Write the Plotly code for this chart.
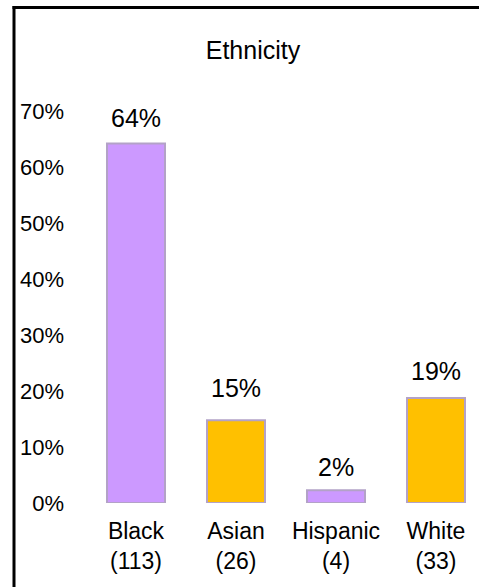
import plotly.graph_objects as go

categories = ["Black", "Asian", "Hispanic", "White"]
counts = [113, 26, 4, 33]
total = sum(counts)
shares = [c / total for c in counts]
bar_colors = ["#CC99FF", "#FFC000", "#CC99FF", "#FFC000"]
label_shift = [9, 16, 7, 11]
y_ticks = [0, 0.1, 0.2, 0.3, 0.4, 0.5, 0.6, 0.7]

W, H = 479, 587
ML, MR, MT, MB = 86, 0, 111, 84
pw = W - ML - MR
ph = H - MT - MB

def px_x(p):
    return (p - ML) / pw

def px_y(p):
    return (H - MB - p) / ph

tick_text = [f"{c}<br>({n})" for c, n in zip(categories, counts)]
FONT = "Liberation Sans, Arial, sans-serif"

fig = go.Figure()
fig.add_trace(go.Bar(
    x=categories, y=shares,
    marker=dict(color=bar_colors, line=dict(color="#B3A2C7", width=2)),
    width=0.58,
    hoverinfo="skip",
))

for c, s, sh in zip(categories, shares, label_shift):
    fig.add_annotation(
        x=c, y=s, text=f"{round(s*100)}%", showarrow=False,
        yanchor="bottom", yshift=sh,
        font=dict(family=FONT, size=25, color="black"),
    )

# outer frame (top and left edges visible)
fig.add_shape(type="line", xref="paper", yref="paper",
              x0=px_x(12.5), x1=px_x(482), y0=px_y(7.5), y1=px_y(7.5),
              line=dict(color="black", width=3), layer="above")
fig.add_shape(type="line", xref="paper", yref="paper",
              x0=px_x(14), x1=px_x(14), y0=px_y(6), y1=px_y(590),
              line=dict(color="black", width=3), layer="above")

fig.update_layout(
    width=W, height=H,
    margin=dict(l=ML, r=MR, t=MT, b=MB, pad=0),
    paper_bgcolor="white", plot_bgcolor="white",
    showlegend=False,
    title=dict(text="Ethnicity", x=253 / W, xanchor="center", xref="container",
               y=1 - 50 / H, yanchor="middle", yref="container",
               font=dict(family=FONT, size=25, color="black")),
    font=dict(family=FONT, color="black"),
    xaxis=dict(range=[-0.5, -0.5 + pw / 100], tickmode="array",
               tickvals=categories, ticktext=tick_text,
               tickfont=dict(size=23), showgrid=False, zeroline=False,
               showline=False, ticks="", ticklabelstandoff=12),
    yaxis=dict(range=[0, 0.7], tickvals=y_ticks, tickformat=".0%",
               tickfont=dict(size=22), showgrid=False, zeroline=False,
               showline=False, ticks="", ticklabelstandoff=21),
)

fig.write_html("out.html", config={"displayModeBar": False},
               post_script="document.body.style.margin='0';document.body.style.overflow='hidden';")
